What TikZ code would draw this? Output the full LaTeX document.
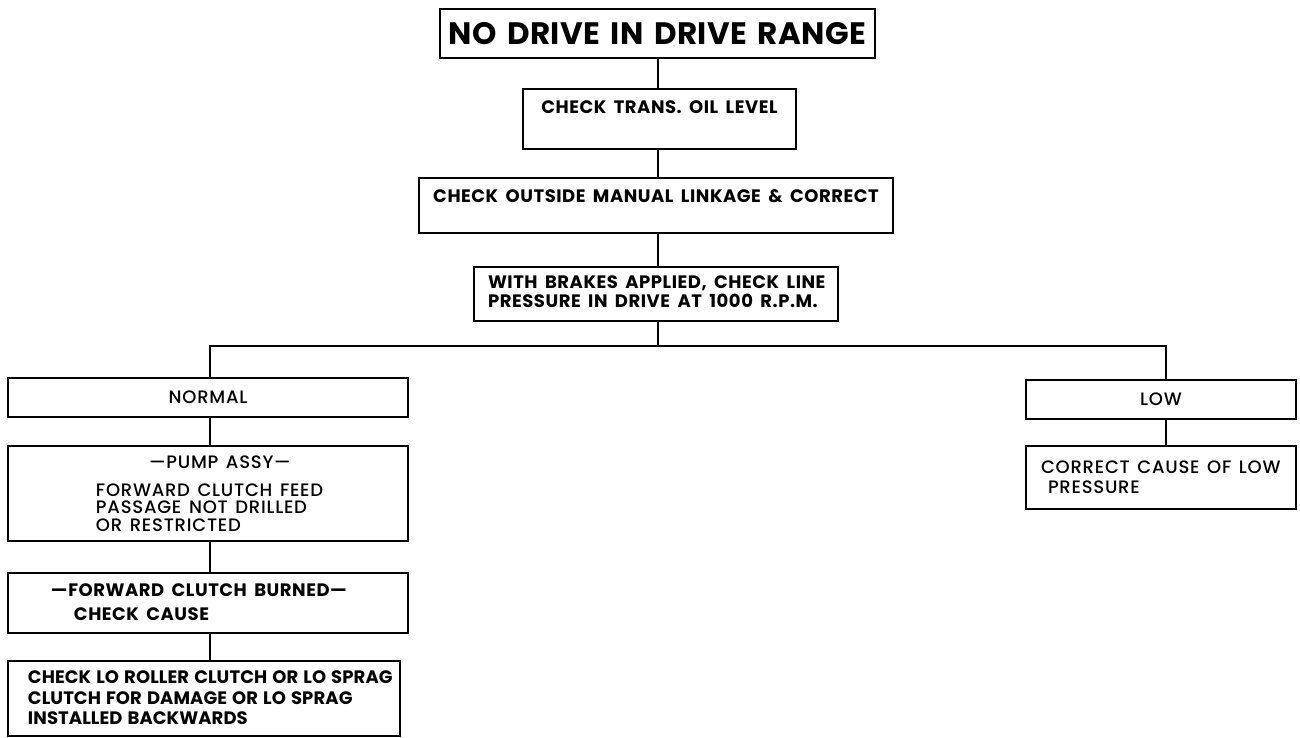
\documentclass[tikz,border=0pt]{standalone}
\usepackage{fontspec}
\setmainfont{Poppins}
\newfontfamily\titlefam{Poppins Bold}[LetterSpace=1.4,WordSpace=1.5]
\newfontfamily\boldfam{Poppins Bold}[LetterSpace=3,WordSpace=1.7]
\newfontfamily\lofam{Poppins Bold}[LetterSpace=0.5,WordSpace=1.3]
\newfontfamily\medfam{Poppins Medium}[LetterSpace=4.2,WordSpace=1.4]
\newcommand\ftitle{\titlefam\fontsize{31}{34}\selectfont}
\newcommand\fbold{\boldfam\fontsize{18}{19}\selectfont}
\newcommand\flo{\lofam\fontsize{18}{19}\selectfont}
\newcommand\freg{\medfam\fontsize{18}{19}\selectfont}
\begin{document}
\begin{tikzpicture}[x=1pt,y=-1pt,
  box/.style={draw, line width=2pt, inner sep=0pt, anchor=north west},
  wire/.style={line width=2pt}]
\useasboundingbox (0,0) rectangle (1300,738);
% boxes
\node[box] (title) at (439,8)
  {\parbox[t][49pt][c]{435pt}{\centering\ftitle NO DRIVE IN DRIVE RANGE}};
\node[box] (trans) at (522,88)
  {\parbox[t][60pt][t]{273pt}{\vspace*{12pt}\centering\fbold CHECK TRANS. OIL LEVEL}};
\node[box] (outside) at (418,177)
  {\parbox[t][55pt][t]{474pt}{\vspace*{12pt}\centering\fbold CHECK OUTSIDE MANUAL LINKAGE \& CORRECT}};
\node[box] (brakes) at (473,266)
  {\parbox[t][54pt][t]{364pt}{\vspace*{9pt}\raggedright\fbold\baselineskip=18.5pt
   \hspace*{14pt}WITH BRAKES APPLIED, CHECK LINE\\
   \hspace*{14pt}PRESSURE IN DRIVE AT 1000 R.P.M.\par}};
\node[box] (normal) at (7,377)
  {\parbox[t][39pt][c]{400pt}{\centering\freg NORMAL}};
\node[box] (low) at (1025,379)
  {\parbox[t][39pt][c]{270pt}{\centering\freg LOW}};
\node[box] (pump) at (7,445)
  {\parbox[t][95pt][t]{400pt}{\vspace*{10pt}\raggedright\freg\baselineskip=17.5pt
   \hspace*{141pt}—PUMP ASSY—\\[10pt]
   \hspace*{88pt}FORWARD CLUTCH FEED\\
   \hspace*{88pt}PASSAGE NOT DRILLED\\
   \hspace*{88pt}OR RESTRICTED\par}};
\node[box] (fwd) at (7,572)
  {\parbox[t][60pt][t]{400pt}{\vspace*{11pt}\raggedright\fbold\baselineskip=24pt
   \hspace*{43pt}—FORWARD CLUTCH BURNED—\\
   \hspace*{66pt}CHECK CAUSE\par}};
\node[box] (checklo) at (7,660)
  {\parbox[t][75pt][t]{392pt}{\vspace*{10pt}\raggedright\flo\baselineskip=20.5pt
   \hspace*{20pt}CHECK LO ROLLER CLUTCH OR LO SPRAG\\
   \hspace*{20pt}CLUTCH FOR DAMAGE OR LO SPRAG\\
   \hspace*{20pt}INSTALLED BACKWARDS\par}};
\node[box] (correct) at (1025,445)
  {\parbox[t][63pt][t]{270pt}{\vspace*{15pt}\raggedright\freg\baselineskip=20pt
   \hspace*{15pt}CORRECT CAUSE OF LOW\\
   \hspace*{22pt}PRESSURE\par}};
% connectors
\coordinate (busL) at (210,346);
\coordinate (busR) at (1166,346);
\coordinate (busM) at (658,346);
\draw[wire] (busM |- title.south) -- (busM |- trans.north);
\draw[wire] (busM |- trans.south) -- (busM |- outside.north);
\draw[wire] (busM |- outside.south) -- (busM |- brakes.north);
\draw[wire] (busM |- brakes.south) -- (busM);
\draw[wire] (busL |- normal.north) -- (busL) -- (busR) -- (busR |- low.north);
\draw[wire] (busL |- normal.south) -- (busL |- pump.north);
\draw[wire] (busL |- pump.south) -- (busL |- fwd.north);
\draw[wire] (busL |- fwd.south) -- (busL |- checklo.north);
\draw[wire] (busR |- low.south) -- (busR |- correct.north);
\end{tikzpicture}
\end{document}
